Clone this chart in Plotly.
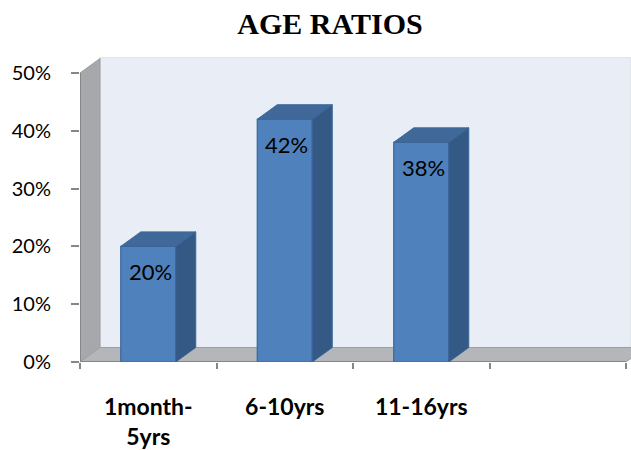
import plotly.graph_objects as go

categories = ["1month-<br>5yrs", "6-10yrs", "11-16yrs"]
values = [0.20, 0.42, 0.38]
y_ticks = [0, 0.1, 0.2, 0.3, 0.4, 0.5]
slot_edges = [-0.5, 0.5, 1.5, 2.5, 3.5]

DX = 0.1465   # 3-D depth along x (category units)
DY = 0.0251   # 3-D depth along y (value units)
BW = 0.403    # bar width
x_min, x_max = -0.5, -0.5 + 551 / 136.5
y_max = 0.5277

x_pos = list(range(len(categories)))

FRONT = "#4f81bd"
EDGE = "#3a669a"
TOP = "#40699a"
SIDE = "#345985"
GRAY = "#868686"

fig = go.Figure()
fig.add_trace(go.Bar(
    x=x_pos, y=values, width=BW,
    marker=dict(color=FRONT, line=dict(color=EDGE, width=1.2)),
    hoverinfo="skip",
))
for x, v in zip(x_pos, values):
    l, r = x - BW / 2, x + BW / 2
    fig.add_trace(go.Scatter(
        x=[l, l + DX, r + DX, r, l], y=[v, v + DY, v + DY, v, v],
        fill="toself", fillcolor=TOP, mode="lines",
        line=dict(color=EDGE, width=1), hoverinfo="skip"))
    fig.add_trace(go.Scatter(
        x=[r, r + DX, r + DX, r, r], y=[0, DY, v + DY, v, 0],
        fill="toself", fillcolor=SIDE, mode="lines",
        line=dict(color=EDGE, width=1), hoverinfo="skip"))
    fig.add_annotation(x=x, y=v, text=f"{v:.0%}", showarrow=False,
                       yshift=-25, xshift=2,
                       font=dict(family="Lato", size=22, color="black"))

x0, xe = slot_edges[0], slot_edges[-1]
top_tick = y_ticks[-1]
shapes = [
    # back wall
    dict(type="rect", xref="x", yref="y", x0=x0 + DX, x1=x_max, y0=DY, y1=y_max,
         fillcolor="#e9edf6", line=dict(color="#d9dce3", width=1), layer="below"),
    # side wall
    dict(type="path", xref="x", yref="y",
         path=f"M {x0},0 L {x0},{top_tick} L {x0 + DX},{top_tick + DY} L {x0 + DX},{DY} Z",
         fillcolor="#a6a8ab", line=dict(color="#9a9c9f", width=1), layer="below"),
    # floor
    dict(type="path", xref="x", yref="y",
         path=f"M {x0},0 L {x0 + DX},{DY} L {xe + DX},{DY} L {xe},0 Z",
         fillcolor="#b4b6ba", line=dict(color="#9c9ea2", width=1), layer="below"),
    # axis lines
    dict(type="line", xref="x", yref="y", x0=x0, x1=x0, y0=0, y1=top_tick,
         line=dict(color=GRAY, width=2), layer="below"),
    dict(type="line", xref="x", yref="y", x0=x0, x1=xe, y0=0, y1=0,
         line=dict(color=GRAY, width=2), layer="below"),
]

fig.update_layout(
    width=631, height=450,
    margin=dict(l=80, r=0, t=57, b=88),
    paper_bgcolor="white", plot_bgcolor="white",
    showlegend=False,
    shapes=shapes,
    title=dict(text="<b>AGE RATIOS</b>", x=0.523, xanchor="center",
               y=1 - 23 / 450, yanchor="middle",
               font=dict(family="Liberation Serif", size=30, color="black")),
    xaxis=dict(range=[x_min, x_max], tickmode="array", tickvals=x_pos,
               ticktext=categories, ticks="", showgrid=False, zeroline=False,
               showline=False, ticklabelstandoff=29,
               tickfont=dict(family="Lato", size=23, color="black", weight="bold"),
               minor=dict(tickmode="array", tickvals=slot_edges, ticks="outside",
                          ticklen=6, tickcolor=GRAY, tickwidth=2)),
    yaxis=dict(range=[0, y_max], tickmode="array", tickvals=y_ticks,
               tickformat=".0%", ticks="outside", ticklen=8, tickcolor=GRAY,
               tickwidth=2, showgrid=False, zeroline=False, showline=False,
               ticklabelstandoff=16,
               tickfont=dict(family="Lato", size=20, color="black")),
)

fig.write_html("out.html")
